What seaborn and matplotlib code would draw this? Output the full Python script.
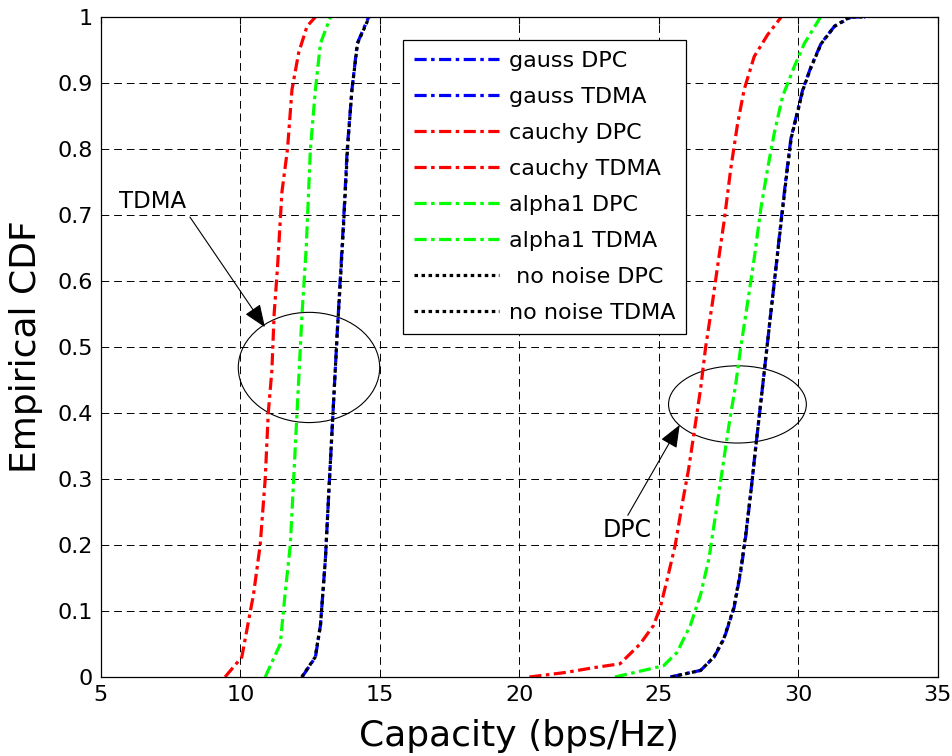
import numpy as np
import matplotlib
matplotlib.use("Agg")
import matplotlib.pyplot as plt
import seaborn as sns
from matplotlib.patches import Ellipse

sns.set_theme(style="white")
plt.rcParams["font.family"] = ["DejaVu Sans"]
plt.rcParams["text.color"] = "black"
plt.rcParams["axes.labelcolor"] = "black"

# ---- data (capacity, CDF) ----
cauchy_tdma_x = [9.45, 10.05, 10.47, 10.71, 10.89, 11.0, 11.13, 11.21, 11.33, 11.49, 11.69, 11.85, 12.09, 12.39, 12.69]
cauchy_tdma_y = [0.0, 0.03, 0.125, 0.20, 0.30, 0.40, 0.465, 0.55, 0.62, 0.735, 0.80, 0.89, 0.946, 0.986, 1.0]

alpha1_tdma_x = [10.89, 11.43, 11.6, 11.79, 11.97, 12.09, 12.21, 12.36, 12.51, 12.69, 12.87, 13.23]
alpha1_tdma_y = [0.0, 0.05, 0.125, 0.20, 0.35, 0.45, 0.55, 0.65, 0.80, 0.89, 0.96, 1.0]

gauss_tdma_x = [12.21, 12.69, 12.87, 13.05, 13.17, 13.32, 13.47, 13.59, 13.71, 13.83, 14.0, 14.19, 14.6]
gauss_tdma_y = [0.0, 0.03, 0.078, 0.18, 0.28, 0.40, 0.52, 0.61, 0.70, 0.80, 0.89, 0.96, 1.0]

nonoise_tdma_x = [12.2, 12.68, 12.87, 13.05, 13.17, 13.32, 13.47, 13.6, 13.72, 13.84, 14.0, 14.2, 14.62]
nonoise_tdma_y = [0.0, 0.03, 0.078, 0.18, 0.28, 0.40, 0.52, 0.61, 0.70, 0.80, 0.89, 0.96, 1.0]

cauchy_dpc_x = [20.36, 21.68, 22.65, 23.61, 24.33, 24.81, 25.05, 25.29, 25.59, 25.83, 26.07, 26.31, 26.5,
                26.68, 26.92, 27.1, 27.34, 27.58, 27.82, 28.06, 28.42, 28.9, 29.39]
cauchy_dpc_y = [0.0, 0.007, 0.014, 0.02, 0.05, 0.078, 0.105, 0.146, 0.20, 0.26, 0.315, 0.383, 0.437,
                0.50, 0.566, 0.62, 0.69, 0.77, 0.837, 0.89, 0.94, 0.973, 1.0]

alpha1_dpc_x = [23.43, 24.45, 25.17, 25.65, 26.13, 26.5, 26.8, 27.04, 27.28, 27.52, 27.76, 27.94, 28.18,
                28.42, 28.66, 28.9, 29.14, 29.44, 29.86, 30.22, 30.8]
alpha1_dpc_y = [0.0, 0.01, 0.017, 0.037, 0.078, 0.125, 0.18, 0.247, 0.315, 0.383, 0.444, 0.50, 0.566,
                0.634, 0.71, 0.77, 0.824, 0.88, 0.925, 0.96, 1.0]

gauss_dpc_x = [25.41, 26.5, 26.98, 27.34, 27.7, 27.94, 28.12, 28.3, 28.48, 28.66, 28.84, 29.02, 29.2,
               29.38, 29.56, 29.74, 29.98, 30.16, 30.46, 30.82, 31.3, 31.9, 32.4]
gauss_dpc_y = [0.0, 0.01, 0.03, 0.058, 0.105, 0.16, 0.214, 0.28, 0.35, 0.417, 0.485, 0.553, 0.62,
               0.69, 0.756, 0.817, 0.858, 0.89, 0.925, 0.96, 0.986, 1.0, 1.0]

nonoise_dpc_x = [25.45, 26.5, 26.97, 27.33, 27.69, 27.93, 28.11, 28.3, 28.48, 28.66, 28.84, 29.02, 29.2,
                 29.39, 29.57, 29.75, 29.99, 30.17, 30.47, 30.83, 31.3, 31.85, 32.4]
nonoise_dpc_y = gauss_dpc_y

labels = ["gauss DPC", "gauss TDMA", "cauchy DPC", "cauchy TDMA",
          "alpha1 DPC", "alpha1 TDMA", " no noise DPC", "no noise TDMA"]
series = [(gauss_dpc_x, gauss_dpc_y), (gauss_tdma_x, gauss_tdma_y),
          (cauchy_dpc_x, cauchy_dpc_y), (cauchy_tdma_x, cauchy_tdma_y),
          (alpha1_dpc_x, alpha1_dpc_y), (alpha1_tdma_x, alpha1_tdma_y),
          (nonoise_dpc_x, nonoise_dpc_y), (nonoise_tdma_x, nonoise_tdma_y)]
colors = ["#0000ff", "#0000ff", "#ff0000", "#ff0000", "#00ff00", "#00ff00", "black", "black"]
dashdot = (0, (3.8, 1.4, 1.1, 1.4))
dotted = (0, (1.1, 1.1))
styles = [dashdot] * 6 + [dotted] * 2

fig = plt.figure(figsize=(9.52, 7.56), dpi=100)
ax = fig.add_axes([0.106, 0.1045, 0.879, 0.873])

for (xs, ys), lab, c, ls in zip(series, labels, colors, styles):
    sns.lineplot(x=xs, y=ys, ax=ax, color=c, linestyle=ls, linewidth=2.3,
                 label=lab, sort=False, estimator=None)

ax.set_xlim(5, 35)
ax.set_ylim(0, 1)
ax.set_xticks(np.arange(5, 36, 5))
ax.set_yticks(np.arange(0, 1.01, 0.1))
ax.set_yticklabels(["0", "0.1", "0.2", "0.3", "0.4", "0.5", "0.6", "0.7", "0.8", "0.9", "1"])
ax.tick_params(direction="in", length=5, labelsize=16, colors="black", width=0.8,
               top=True, right=True, pad=6)
ax.grid(True, color="black", linestyle=(0, (8, 5)), linewidth=0.7)
for sp in ax.spines.values():
    sp.set_color("black")
    sp.set_linewidth(0.9)

ax.set_xlabel("Capacity (bps/Hz)", fontsize=26, labelpad=10)
ax.set_ylabel("Empirical CDF", fontsize=26, labelpad=10)

# annotations: ellipses + arrows
ax.add_patch(Ellipse((12.46, 0.469), 5.07, 0.167, fill=False, edgecolor="black", linewidth=0.8))
ax.add_patch(Ellipse((27.82, 0.413), 4.94, 0.117, fill=False, edgecolor="black", linewidth=0.8))
arrow = dict(arrowstyle="-|>,head_length=0.7,head_width=0.28", color="black", lw=0.8,
             mutation_scale=20, shrinkA=0, shrinkB=0)
ax.text(6.86, 0.72, "TDMA", fontsize=16.5, ha="center", va="center")
ax.annotate("", xy=(10.88, 0.530), xytext=(8.19, 0.697), arrowprops=arrow)
ax.text(23.85, 0.223, "DPC", fontsize=17, ha="center", va="center")
ax.annotate("", xy=(25.75, 0.382), xytext=(23.89, 0.245), arrowprops=arrow)

leg = ax.legend(loc="upper left", bbox_to_anchor=(0.361, 0.965), borderaxespad=0, fontsize=16,
                frameon=True, fancybox=False, edgecolor="black", framealpha=1, handlelength=3.8,
                labelspacing=0.72, borderpad=0.5, handletextpad=0.45)
leg.get_frame().set_linewidth(0.9)

fig.savefig("out.png", dpi=100)
